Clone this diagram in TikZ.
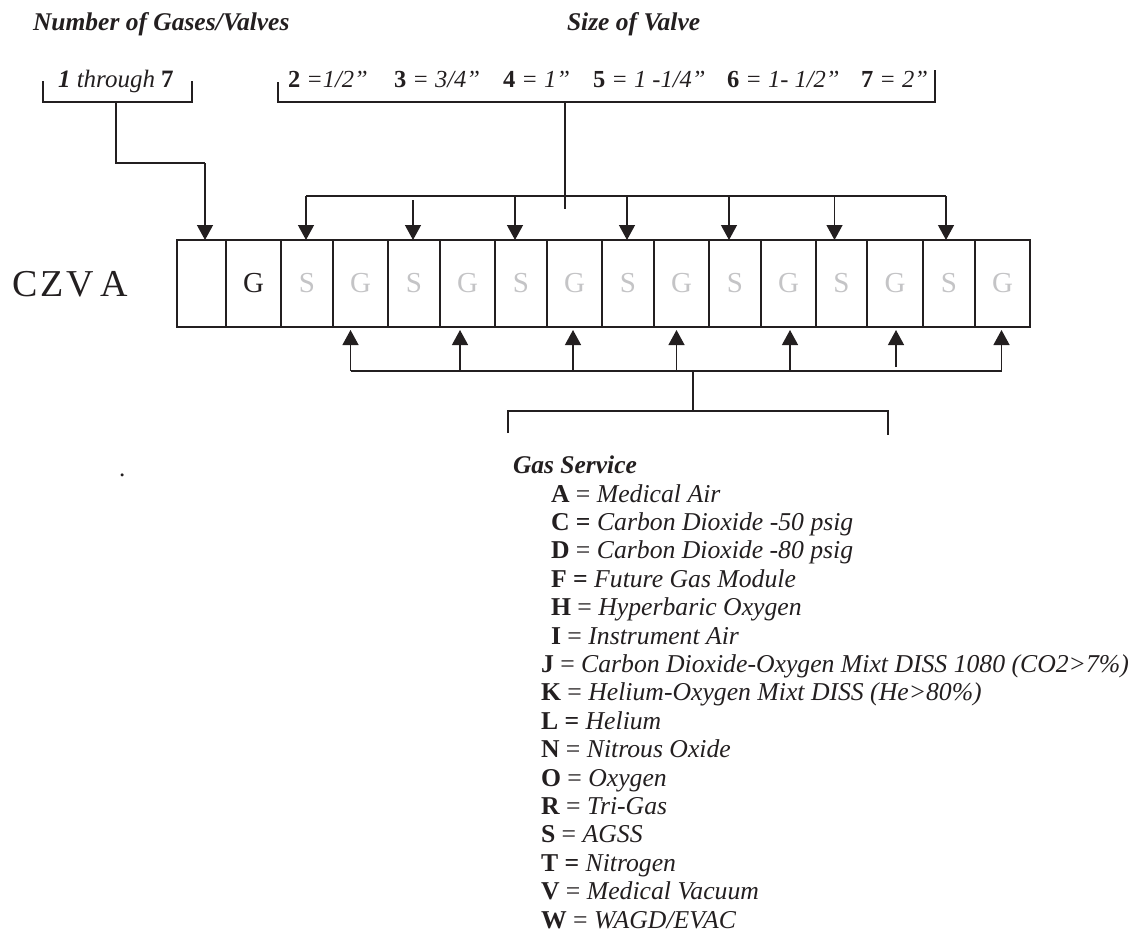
\documentclass[tikz,border=0pt]{standalone}
\usepackage{fontspec}
\setmainfont{Liberation Serif}
\usetikzlibrary{arrows.meta}
\definecolor{ink}{RGB}{35,31,32}
\definecolor{lite}{RGB}{196,196,198}
\begin{document}
\begin{tikzpicture}[x=1pt,y=-1pt,
  cell/.style={draw=ink, line width=1.2pt, minimum height=87pt, inner sep=0pt, outer sep=0pt,
               font=\fontsize{29}{29}\selectfont, text=lite},
  arr/.style={draw=ink, line width=1.3pt, -{Triangle[length=15pt,width=16pt]}},
  wire/.style={draw=ink, line width=1.3pt},
  txt/.style={anchor=base west, inner sep=0pt, outer sep=0pt, text=ink, font=\fontsize{25}{28}\selectfont},
  sizetxt/.style={txt, font=\fontsize{24.5}{28}\selectfont},
  head/.style={txt, font=\fontsize{25.5}{28}\selectfont\bfseries\itshape},
  entry/.style={txt, font=\fontsize{25.7}{28}\selectfont}
]
\useasboundingbox (0,0) rectangle (1137,943);

% headers
\node[head] (hNum) at (33,30) {Number of Gases/Valves};
\node[head] (hSize) at (567,30) {Size of Valve};

% bracket 1
\node[txt] (n17) at (58,87) {\textbf{\itshape 1} \textit{through} \textbf{7}};
\coordinate (b1L) at (43,81);
\coordinate (b1R) at (192,81);
\coordinate (b1M) at (116,102);
\draw[wire] (b1L) |- (b1M) -| (b1R);

% bracket 2 texts
\node[sizetxt] (s2) at (288,87) {\textbf{2} \textit{=1/2”}};
\node[sizetxt] (s3) at (394,87) {\textbf{3} \textit{= 3/4”}};
\node[sizetxt] (s4) at (503,87) {\textbf{4} \textit{= 1”}};
\node[sizetxt] (s5) at (593,87) {\textbf{5} \textit{= 1 -1/4”}};
\node[sizetxt] (s6) at (727,87) {\textbf{6} \textit{= 1- 1/2”}};
\node[sizetxt] (s7) at (861,87) {\textbf{7} \textit{= 2”}};
\coordinate (b2L) at (278,82);
\coordinate (b2R) at (935,70);
\coordinate (b2M) at (565,102);
\draw[wire] (b2L) |- (b2M) -| (b2R);

% CZVA
\node[anchor=base west, inner sep=0pt, text=ink, font=\fontsize{38}{38}\selectfont] (czva) at (12,296) {C\kern3pt Z\kern3pt V\kern6pt A};

% cells
\node[cell, minimum width=49pt] (c0) at (201.5,283.5) {};
\node[cell, minimum width=55pt, text=ink] (c1) at (253.5,283.5) {\raisebox{-3pt}{G}};
\node[cell, minimum width=52pt] (c2) at (307,283.5) {\raisebox{-3pt}{S}};
\node[cell, minimum width=55pt] (c3) at (360.5,283.5) {\raisebox{-3pt}{G}};
\node[cell, minimum width=52pt] (c4) at (414,283.5) {\raisebox{-3pt}{S}};
\node[cell, minimum width=55pt] (c5) at (467.5,283.5) {\raisebox{-3pt}{G}};
\node[cell, minimum width=52pt] (c6) at (521,283.5) {\raisebox{-3pt}{S}};
\node[cell, minimum width=55pt] (c7) at (574.5,283.5) {\raisebox{-3pt}{G}};
\node[cell, minimum width=52pt] (c8) at (628,283.5) {\raisebox{-3pt}{S}};
\node[cell, minimum width=55pt] (c9) at (681.5,283.5) {\raisebox{-3pt}{G}};
\node[cell, minimum width=52pt] (c10) at (735,283.5) {\raisebox{-3pt}{S}};
\node[cell, minimum width=55pt] (c11) at (788.5,283.5) {\raisebox{-3pt}{G}};
\node[cell, minimum width=51pt] (c12) at (841.5,283.5) {\raisebox{-3pt}{S}};
\node[cell, minimum width=56pt] (c13) at (895,283.5) {\raisebox{-3pt}{G}};
\node[cell, minimum width=52pt] (c14) at (949,283.5) {\raisebox{-3pt}{S}};
\node[cell, minimum width=55pt] (c15) at (1002.5,283.5) {\raisebox{-3pt}{G}};

% count connector
\coordinate (k1) at (205,163);
\draw[wire] (b1M) |- (k1);
\draw[arr] (k1) -- ([xshift=3.5pt]c0.north);

% size connector
\coordinate (uL) at (306,196);
\coordinate (uR) at (946,196);
\coordinate (uStub) at (565,209);
\draw[wire] (uL) -- (uR);
\draw[wire] (b2M) -- (uStub);
\draw[arr] ([xshift=-1pt]c2.north) ++(0,-44) -- ++(0,44);
\draw[arr] ([xshift=-1pt]c4.north) ++(0,-40) -- ++(0,40);
\draw[arr] ([xshift=-6pt]c6.north) ++(0,-44) -- ++(0,44);
\draw[arr] ([xshift=-1pt]c8.north) ++(0,-44) -- ++(0,44);
\draw[arr] ([xshift=-6pt]c10.north) ++(0,-44) -- ++(0,44);
\draw[arr] ([xshift=-7pt]c12.north) ++(0,-44) -- ++(0,44);
\draw[arr] ([xshift=-3pt]c14.north) ++(0,-44) -- ++(0,44);

% gas service connector
\coordinate (lL) at (350.7,371);
\coordinate (lR) at (1001.7,371);
\coordinate (lM) at (693,371);
\coordinate (gM) at (693,411);
\coordinate (gL) at (508,433);
\coordinate (gR) at (888,435);
\draw[wire] (lL) -- (lR);
\draw[wire] (lM) -- (gM);
\draw[wire] (gL) |- (gM) -| (gR);
\draw[arr] ([xshift=-10pt]c3.south) ++(0,44) -- ++(0,-41);
\draw[arr] ([xshift=-7.5pt]c5.south) ++(0,44) -- ++(0,-41);
\draw[arr] ([xshift=-1.5pt]c7.south) ++(0,44) -- ++(0,-41);
\draw[arr] ([xshift=-5pt]c9.south) ++(0,44) -- ++(0,-41);
\draw[arr] ([xshift=1.5pt]c11.south) ++(0,44) -- ++(0,-41);
\draw[arr] ([xshift=1pt]c13.south) ++(0,40) -- ++(0,-37);
\draw[arr] ([xshift=-1pt]c15.south) ++(0,44) -- ++(0,-41);

% stray dot
\node[txt] (dot) at (119,476) {.};

% legend
\node[head] (gs) at (513,473) {Gas Service};
\node[entry] (eA) at (551,502) {\textbf{A} = \textit{Medical Air}};
\node[entry] (eC) at (551,530.4) {\textbf{C =} \textit{Carbon Dioxide -50 psig}};
\node[entry] (eD) at (551,558.8) {\textbf{D} = \textit{Carbon Dioxide -80 psig}};
\node[entry] (eF) at (551,587.2) {\textbf{F =} \textit{Future Gas Module}};
\node[entry] (eH) at (551,615.6) {\textbf{H} = \textit{Hyperbaric Oxygen}};
\node[entry] (eI) at (551,644) {\textbf{I} = \textit{Instrument Air}};
\node[entry] (eJ) at (541,672.4) {\textbf{J} = \textit{Carbon Dioxide-Oxygen Mixt DISS 1080 (CO2>7\%)}};
\node[entry] (eK) at (541,700.8) {\textbf{K} = \textit{Helium-Oxygen Mixt DISS (He>80\%)}};
\node[entry] (eL) at (541,729.2) {\textbf{L =} \textit{Helium}};
\node[entry] (eN) at (541,757.6) {\textbf{N} = \textit{Nitrous Oxide}};
\node[entry] (eO) at (541,786) {\textbf{O} = \textit{Oxygen}};
\node[entry] (eR) at (541,814.4) {\textbf{R} = \textit{Tri-Gas}};
\node[entry] (eS) at (541,842.8) {\textbf{S} = \textit{AGSS}};
\node[entry] (eT) at (541,871.2) {\textbf{T =} \textit{Nitrogen}};
\node[entry] (eV) at (541,899.6) {\textbf{V} = \textit{Medical Vacuum}};
\node[entry] (eW) at (541,928) {\textbf{W} = \textit{WAGD/EVAC}};
\end{tikzpicture}
\end{document}
